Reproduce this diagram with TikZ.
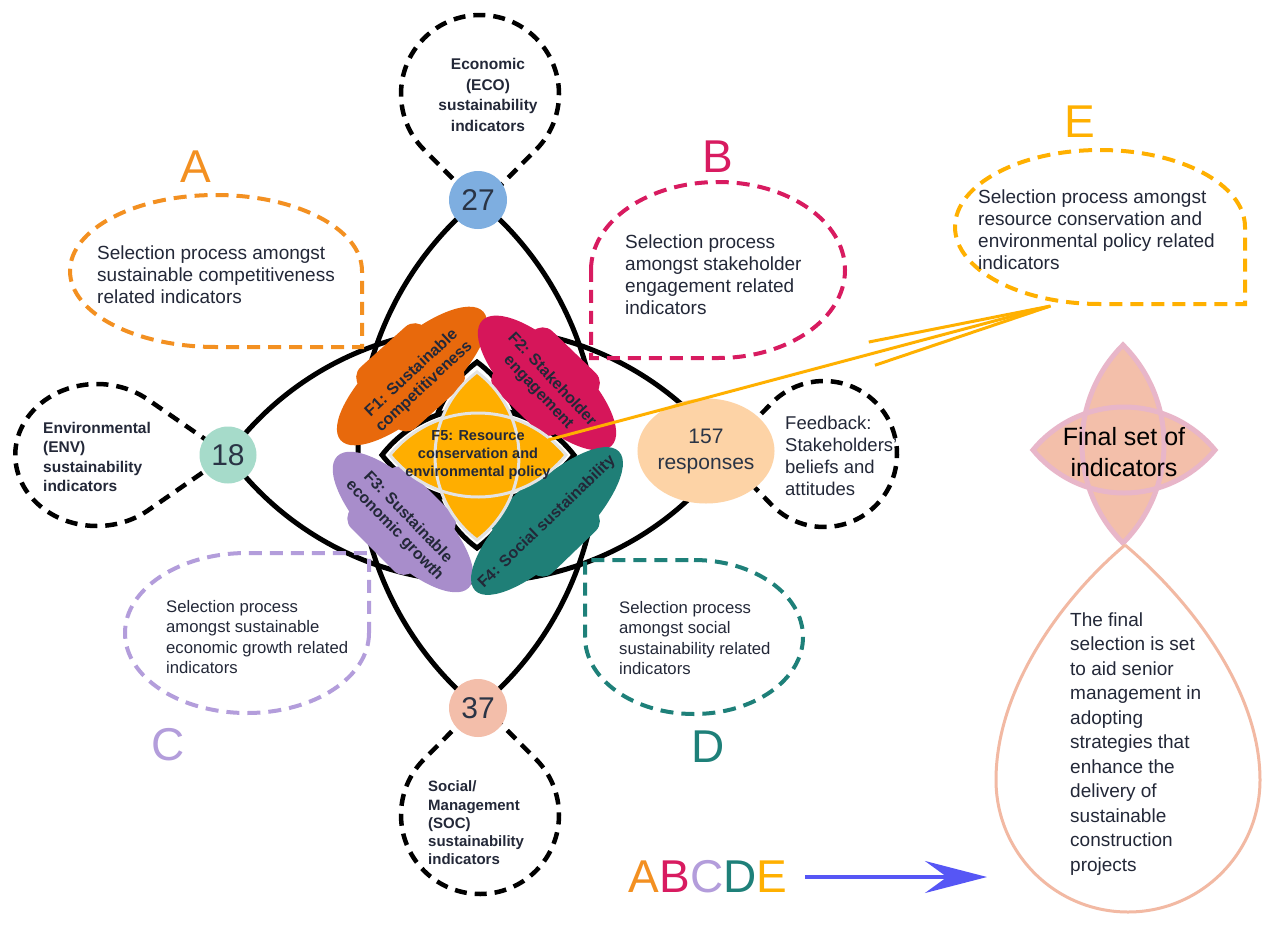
\documentclass[tikz,border=0pt]{standalone}
\usepackage{fontspec}
\setmainfont{Liberation Sans}
\usetikzlibrary{arrows.meta,calc,shapes.geometric}
\definecolor{txt}{HTML}{232838}
\definecolor{numtxt}{HTML}{2A3445}
\definecolor{cA}{HTML}{F39021}
\definecolor{cB}{HTML}{D81B60}
\definecolor{cC}{HTML}{B39DDB}
\definecolor{cD}{HTML}{1E8079}
\definecolor{cE}{HTML}{FFB000}
\definecolor{pF1}{HTML}{E8690C}
\definecolor{pF2}{HTML}{D6165A}
\definecolor{pF3}{HTML}{A88DCB}
\definecolor{pF4}{HTML}{1F7F77}
\definecolor{pF5}{HTML}{FFAE00}
\definecolor{f5line}{HTML}{E3E3E3}
\definecolor{c27}{HTML}{7EAEE0}
\definecolor{c18}{HTML}{A6DBCA}
\definecolor{c37}{HTML}{F3BEAA}
\definecolor{c157}{HTML}{FDD3A6}
\definecolor{starfill}{HTML}{F3BFAA}
\definecolor{starline}{HTML}{E8B6C9}
\definecolor{tearline}{HTML}{F2B9A3}
\definecolor{blueA}{HTML}{5656F5}

\newcommand\myfs[2]{\fontsize{#1}{#2}\selectfont}

% teardrop: style, tip x, tip y, theta (tip->centre), distance, radius
\newcommand\mydrop[6]{%
  \pgfmathsetmacro\dpcx{#2+#5*cos(#4)}%
  \pgfmathsetmacro\dpcy{#3+#5*sin(#4)}%
  \pgfmathsetmacro\dpal{acos(#6/#5)}%
  \pgfmathsetmacro\dpsa{#4+180-\dpal}%
  \pgfmathsetmacro\dpea{#4+180+\dpal-360}%
  \draw[#1] (#2,#3) -- ($(\dpcx,\dpcy)+(\dpsa:#6)$) arc[start angle=\dpsa, end angle=\dpea, radius=#6] -- cycle;
}
% corner drop: style, cx, cy, rx, ry, q (quadrant replaced by a square corner)
\newcommand\cdrop[6]{%
  \pgfmathsetmacro\cdsa{#6+90}%
  \pgfmathsetmacro\cdea{#6+360}%
  \pgfmathsetmacro\cdsx{#2+#4*cos(\cdsa)}%
  \pgfmathsetmacro\cdsy{#3+#5*sin(\cdsa)}%
  \pgfmathsetmacro\cdkx{#2+#4*1.41421*cos(#6+45)}%
  \pgfmathsetmacro\cdky{#3+#5*1.41421*sin(#6+45)}%
  \draw[#1] (\cdsx,\cdsy) arc[start angle=\cdsa, end angle=\cdea, x radius=#4, y radius=#5] -- (\cdkx,\cdky) -- cycle;
}
% vertical lens: style, cx, cy, half width, half height
\newcommand\vlens[5]{%
  \pgfmathsetmacro\lnR{(#5/#4*#5+#4)/2}%
  \pgfmathsetmacro\lnc{\lnR-#4}%
  \pgfmathsetmacro\lng{atan2(#5,\lnc)}%
  \pgfmathsetmacro\lnA{180+\lng}%
  \pgfmathsetmacro\lnB{180-\lng}%
  \pgfmathsetmacro\lnD{-\lng}%
  \pgfmathsetmacro\lnT{#3-#5}%
  \path[#1] (#2,\lnT) arc[start angle=\lnA, end angle=\lnB, radius=\lnR] arc[start angle=\lng, end angle=\lnD, radius=\lnR] -- cycle;
}
% horizontal lens: style, cx, cy, half width, half height
\newcommand\hlens[5]{%
  \pgfmathsetmacro\lnR{(#4/#5*#4+#5)/2}%
  \pgfmathsetmacro\lnc{\lnR-#5}%
  \pgfmathsetmacro\lnb{atan2(\lnc,#4)}%
  \pgfmathsetmacro\lnA{180+\lnb}%
  \pgfmathsetmacro\lnB{360-\lnb}%
  \pgfmathsetmacro\lnD{180-\lnb}%
  \pgfmathsetmacro\lnL{#2-#4}%
  \path[#1] (\lnL,#3) arc[start angle=\lnA, end angle=\lnB, radius=\lnR] arc[start angle=\lnb, end angle=\lnD, radius=\lnR] -- cycle;
}
% petal: colour, cx, cy, angle, semi-major
\newcommand\petal[5]{%
  \begin{scope}[shift={(#2,#3)}, rotate=#4]
    \fill[#1] (0,0) ellipse[x radius=#5, y radius=35];
    \fill[#1, rounded corners=14pt] (-46,-41) rectangle (42,41);
  \end{scope}
}

\tikzset{
  blackdash/.style={draw=black, line width=4.5pt, dash pattern=on 12pt off 8pt},
  coldash/.style={draw=#1, line width=4pt, dash pattern=on 13pt off 8pt},
  body/.style={font=\myfs{19}{22}, align=left, anchor=west},
  small/.style={font=\myfs{16.7}{20.3}, align=left, anchor=west},
  boldt/.style={font=\bfseries\myfs{15.5}{19.3}, align=left},
  petaltxt/.style={font=\bfseries\myfs{16}{18.5}, align=center},
  letter/.style={font=\myfs{46}{46}, text=#1},
  numcirc/.style={circle, fill=#1, minimum size=58pt, font=\myfs{30}{30}, text=numtxt}
}

\begin{document}
\begin{tikzpicture}[x=1pt, y=-1pt, every node/.style={inner sep=0pt, text=txt}]
\useasboundingbox (0,0) rectangle (1266,926);
\fill[white] (0,0) rectangle (1266,926);

% black vesicas
\vlens{draw=black, line width=5pt}{478}{454}{120}{254}
\hlens{draw=black, line width=5pt}{478}{455}{250}{127}

% coloured selection drops
\cdrop{coldash=cA}{216}{271}{146}{76}{0}
\cdrop{coldash=cB}{718}{270}{127}{88}{90}
\cdrop{coldash=cC}{247}{633}{122}{80}{270}
\cdrop{coldash=cD}{694}{637}{109}{77}{180}
\cdrop{coldash=cE}{1100}{227}{145}{77}{0}

% black indicator drops
\mydrop{blackdash}{480}{206}{270}{112}{79}
\mydrop{blackdash}{480}{703}{90}{112}{79}
\mydrop{blackdash}{722}{454}{0}{102}{73}
\begin{scope}[shift={(228,455)}, xscale=1.15]
\mydrop{blackdash}{0}{0}{180}{114}{71}
\end{scope}

% number circles
\node[numcirc=c27] (n27) at (478,200) {27};
\node[numcirc=c18, minimum size=57pt] (n18) at (228,455) {18};
\node[numcirc=c37] (n37) at (478,708) {37};
\node[ellipse, fill=c157, minimum width=119pt, minimum height=105pt, align=center, font=\myfs{21}{26}, text=numtxt] (n157) at (706,451) {157\\responses};

% black star behind F5
\vlens{draw=black, line width=5pt, fill=white}{477}{455}{47}{93}
\hlens{draw=black, line width=5pt, fill=white}{478}{455}{96}{47}

% petals
\petal{pF1}{412}{376}{42}{96}
\petal{pF2}{547}{383}{-44}{90}
\petal{pF3}{403}{522}{-45}{93}
\petal{pF4}{547}{521}{44}{100}
\node[petaltxt, rotate=43] (tf1) at (418,380) {F1: Sustainable\\competitiveness};
\node[petaltxt, rotate=-47] (tf2) at (545,386) {F2: Stakeholder\\engagement};
\node[petaltxt, rotate=-46] (tf3) at (401,524) {F3: Sustainable\\economic growth};
\node[petaltxt, rotate=44] (tf4) at (547,522) {F4: Social sustainability};

% F5 star
\vlens{fill=pF5}{477}{456}{42}{84}
\hlens{fill=pF5}{478}{455}{88}{42}
\vlens{draw=f5line, line width=3pt}{477}{456}{42}{84}
\hlens{draw=f5line, line width=3pt}{478}{455}{88}{42}
\node[font=\bfseries\myfs{14.5}{18}, align=center] (tf5) at (478,455) {F5: Resource\\conservation and\\environmental policy};

% orange arrow towards E
\coordinate (f5a) at (548,440);
\coordinate (etip) at (1073,300);
\draw[cE, line width=3pt, -{Straight Barb[length=185pt, width=24pt]}] (f5a) -- (etip);

% texts of drops
\node[body] (tA) at (97,275) {Selection process amongst\\sustainable competitiveness\\related indicators};
\node[body] (tB) at (625,275) {Selection process\\amongst stakeholder\\engagement related\\indicators};
\node[small] (tC) at (166,637) {Selection process\\amongst sustainable\\economic growth related\\indicators};
\node[small] (tD) at (619,638) {Selection process\\amongst social\\sustainability related\\indicators};
\node[body] (tE) at (978,230) {Selection process amongst\\resource conservation and\\environmental policy related\\indicators};
\node[font=\myfs{18.5}{22}, align=left, anchor=west] (tfb) at (785,456) {Feedback:\\Stakeholders'\\beliefs and\\attitudes};
\node[boldt, align=center, font=\bfseries\myfs{15.5}{20.7}] (teco) at (488,95) {Economic\\(ECO)\\sustainability\\indicators};
\node[boldt, anchor=west] (tenv) at (43,457) {Environmental\\(ENV)\\sustainability\\indicators};
\node[boldt, anchor=west, font=\bfseries\myfs{15}{18.3}] (tsoc) at (428,823) {Social/\\Management\\(SOC)\\sustainability\\indicators};

% letters
\node[letter=cA] (lA) at (196,167) {A};
\node[letter=cB] (lB) at (718,157) {B};
\node[letter=cC] (lC) at (168,745) {C};
\node[letter=cD] (lD) at (708,747) {D};
\node[letter=cE] (lE) at (1080,122) {E};

% final set of indicators
\vlens{fill=starfill}{1123}{444}{41}{99}
\hlens{fill=starfill}{1124}{450}{91}{43}
\vlens{draw=starline, line width=5pt}{1123}{444}{41}{99}
\hlens{draw=starline, line width=5pt}{1124}{450}{91}{43}
\node[font=\myfs{25}{31}, align=center, text=black] (tfin) at (1124,452) {Final set of\\indicators};

\coordinate (ttip) at (1125,545);
\draw[tearline, line width=3pt] (ttip) .. controls (1060,600) and (996,690) .. (996,780)
  arc[start angle=180, end angle=0, radius=132] .. controls (1260,690) and (1190,600) .. (ttip);
\node[font=\myfs{19}{24.5}, align=left, anchor=west] (tfinal) at (1070,744) {The final\\selection is set\\to aid senior\\management in\\adopting\\strategies that\\enhance the\\delivery of\\sustainable\\construction\\projects};

% ABCDE and blue arrow
\node[font=\myfs{46}{46}] (abcde) at (708,877) {\textcolor{cA}{A}\textcolor{cB}{B}\textcolor{cC}{C}\textcolor{cD}{D}\textcolor{cE}{E}};
\coordinate (bluetip) at (987,877);
\draw[blueA, line width=3.5pt, shorten <=18pt, -{Stealth[length=62pt, width=32pt, inset=22pt]}] (abcde) -- (bluetip);
\end{tikzpicture}
\end{document}
